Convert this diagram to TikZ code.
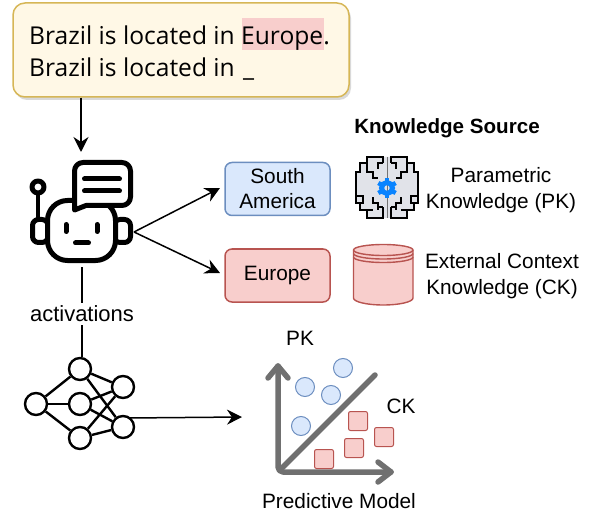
\documentclass[tikz,border=0pt]{standalone}
\usepackage{fontspec}
\setmainfont{Liberation Sans}
\newfontfamily\boxfont{Open Sans}
\usetikzlibrary{arrows.meta,shadows,shapes.geometric,calc}
\definecolor{noteFill}{HTML}{FFF8E6}
\definecolor{noteLine}{HTML}{D6B656}
\definecolor{blueFill}{HTML}{DAE8FC}
\definecolor{blueLine}{HTML}{6C8EBF}
\definecolor{redFill}{HTML}{F8CECC}
\definecolor{redLine}{HTML}{B85450}
\definecolor{axisGray}{HTML}{707070}
\definecolor{brainFill}{HTML}{E1E3E9}
\definecolor{gearBlue}{HTML}{0A84FF}
\tikzset{
  x=1pt,y=-1pt,
  conn/.style={line width=1.5pt,black},
  arr/.style={conn,-{Stealth[length=15pt,width=15pt,inset=5pt]}},
  ico/.style={line width=5pt,line cap=round,line join=round,black},
  netnode/.style={circle,draw=black,line width=2.4pt,fill=white,minimum size=22pt,inner sep=0pt},
  netedge/.style={line width=2.4pt,black},
  lbl/.style={font=\fontsize{20.8}{26}\selectfont,align=center,inner sep=0pt},
  answer/.style={rounded corners=7pt,line width=1.5pt,minimum width=105pt,minimum height=53pt,align=center,inner sep=0pt,font=\fontsize{20.8}{25}\selectfont},
  pkdot/.style={circle,draw=blueLine,fill=blueFill,line width=1pt,minimum size=19pt,inner sep=0pt},
  cksq/.style={rectangle,rounded corners=2pt,draw=redLine,fill=redFill,line width=1pt,minimum size=19pt,inner sep=0pt},
  axisline/.style={line width=5.5pt,axisGray,line cap=round,line join=round},
}
\begin{document}
\begin{tikzpicture}
\useasboundingbox (0,0) rectangle (589,513);
% note
\node[draw=noteLine,fill=noteFill,line width=1.5pt,rounded corners=12pt,minimum width=336pt,minimum height=94pt,inner sep=0pt,
  drop shadow={shadow xshift=2pt,shadow yshift=-3pt,opacity=.3}] (note) at (181,50) {};
\fill[redFill] (242,18) rectangle (324,50);
\node[anchor=base west,inner sep=0pt,font=\boxfont\fontsize{24.6}{28}\selectfont] (line1) at (29,45) {Brazil is located in Europe.};
\node[anchor=base west,inner sep=0pt,font=\boxfont\fontsize{24.6}{28}\selectfont] (line2) at (29,77) {Brazil is located in\hspace{2pt} \_};
% robot
\coordinate (robotTop) at (81,152);
\coordinate (robotRight) at (134,232);
\coordinate (robotBottom) at (82,267);
\draw[arr] (note.south -| robotTop) -- (robotTop);
\begin{scope}[ico]
  \draw[fill=white,rounded corners=6pt] (32.5,219.5) rectangle (48,242.5);
  \draw[fill=white,rounded corners=6pt] (114,219.5) rectangle (130.5,242.5);
  \draw[line width=3.5pt] (38,194) -- (38,219);
  \draw (38,187) circle (6);
  \draw[fill=white,rounded corners=20pt] (47.5,200.5) rectangle (115.5,260.5);
  \draw[fill=white] (74.5,210) -- (74.5,171) arc[start angle=180,end angle=90,x radius=8.5,y radius=-8.5] -- (122,162.5) arc[start angle=90,end angle=0,x radius=8.5,y radius=-8.5] -- (130.5,197) arc[start angle=0,end angle=-90,x radius=8.5,y radius=-8.5] -- (90,205.5) -- (86,205.5) -- cycle;
  \draw (84.5,179) -- (119.5,179);
  \draw (84.5,191) -- (119.5,191);
  \draw (66,224.5) -- (66,231.5);
  \draw (97,224.5) -- (97,231.5);
  \draw (75.5,243) -- (88.5,243);
\end{scope}
% answers
\node[answer,draw=blueLine,fill=blueFill] (sa) at (277.5,189) {South\\America};
\node[answer,draw=redLine,fill=redFill] (eu) at (277.5,275.5) {\raisebox{-1pt}{Europe}};
\draw[arr] (robotRight) -- (220,188);
\draw[arr] (robotRight) -- (220,273);
% brain
\foreach \s in {1,-1}{
\begin{scope}[shift={(387,0)},xscale=\s,line width=1.9pt,line join=miter,black]
  \fill[brainFill] (0,157) -- (-20,157) -- (-20,163) -- (-27,163) -- (-27,172) -- (-31,172) -- (-31,203) -- (-27,203) -- (-27,210) -- (-20,210) -- (-20,218) -- (0,218) -- cycle;
  \draw (-4,163) -- (-4,157) -- (-20,157) -- (-20,163) -- (-27,163) -- (-27,172) -- (-31,172) -- (-31,203) -- (-27,203) -- (-27,210) -- (-20,210) -- (-20,218) -- (-4,218) -- (-4,207);
  \draw (-4,163) -- (-9,163) -- (-9,169);
  \draw (-20,163) -- (-20,172) -- (-14,172) -- (-14,178) -- (-9,178);
  \draw (-31,196) -- (-24,196) -- (-24,203) -- (-27,203);
  \draw (-9,210) -- (-9,203) -- (-14,203) -- (-14,197);
  \draw (-20,210) -- (-14,210);
  \draw (-4,207) -- (-9,207);
\end{scope}}
\draw[black!55,line width=1pt] (387,157) -- (387,218);
\draw[gearBlue,line width=5pt] (387,188) circle (5.5);
\foreach \a in {30,90,...,330}{\fill[gearBlue] (387,188) ++(\a:6) ++(\a+90:2.2) -- ++(\a:4) -- ++(\a-90:4.4) -- ++(\a+180:4) -- cycle;}
% cylinder
\draw[redLine,fill=redFill,line width=1.4pt] (353.5,250) -- (353.5,298) arc[start angle=180,end angle=360,x radius=29.75,y radius=-7] -- (413,250) arc[start angle=0,end angle=180,x radius=29.75,y radius=-5.5] -- cycle;
\draw[redLine,line width=1.4pt] (353.5,250) arc[start angle=180,end angle=360,x radius=29.75,y radius=-5.5];
\draw[redLine,line width=1.4pt] (353.5,253.5) arc[start angle=180,end angle=360,x radius=29.75,y radius=-5.5];
\draw[redLine,line width=1.4pt] (353.5,257) arc[start angle=180,end angle=360,x radius=29.75,y radius=-5.5];
% labels
\node[lbl,font=\bfseries\fontsize{20.6}{24}\selectfont] (ks) at (447,128) {Knowledge Source};
\node[lbl] (pklbl) at (501,190) {Parametric\\Knowledge (PK)};
\node[lbl] (cklbl) at (502,276) {External Context\\Knowledge (CK)};
\node[lbl,font=\fontsize{22}{26}\selectfont,fill=white,inner ysep=3pt] (act) at (82,314) {activations};
% network
\node[netnode] (i1) at (36,404) {};
\node[netnode] (m1) at (80,369) {};
\node[netnode] (m2) at (80,404) {};
\node[netnode] (m3) at (80,438) {};
\node[netnode] (o1) at (123,387) {};
\node[netnode] (o2) at (123,427) {};
\foreach \a/\b in {i1/m1,i1/m2,i1/m3,m1/o1,m1/o2,m2/o1,m2/o2,m3/o1,m3/o2}{\draw[netedge] (\a) -- (\b);}
\draw[conn] (robotBottom) -- (act);
\draw[conn] (act) -- (act |- m1.north);
\coordinate (netOut) at (128,418);
\coordinate (plotIn) at (242,417);
\draw[arr] (netOut) -- (plotIn);
% plot
\coordinate (corner) at (278,472);
\coordinate (yEnd) at (278,366);
\coordinate (xEnd) at (391,472);
\coordinate (diagEnd) at (375,375);
\draw[axisline,rounded corners=5pt] (yEnd) -- (corner) -- (xEnd);
\draw[axisline] (268,378) -- (yEnd) -- (288,378);
\draw[axisline] (378,462) -- (xEnd) -- (378,482);
\draw[axisline] (282,468) -- (diagEnd);
\node[pkdot] (p1) at (343,368) {};
\node[pkdot] (p2) at (305,387) {};
\node[pkdot] (p3) at (331,395) {};
\node[pkdot] (p4) at (301,426) {};
\node[cksq] (c1) at (358,421) {};
\node[cksq] (c2) at (384,437) {};
\node[cksq] (c3) at (354,448) {};
\node[cksq] (c4) at (324,459) {};
\node[lbl] (pk) at (300,338) {PK};
\node[lbl] (ck) at (401,406) {CK};
\node[lbl,fill=white,inner ysep=2pt] (pm) at (339,501) {Predictive Model};
\end{tikzpicture}
\end{document}
